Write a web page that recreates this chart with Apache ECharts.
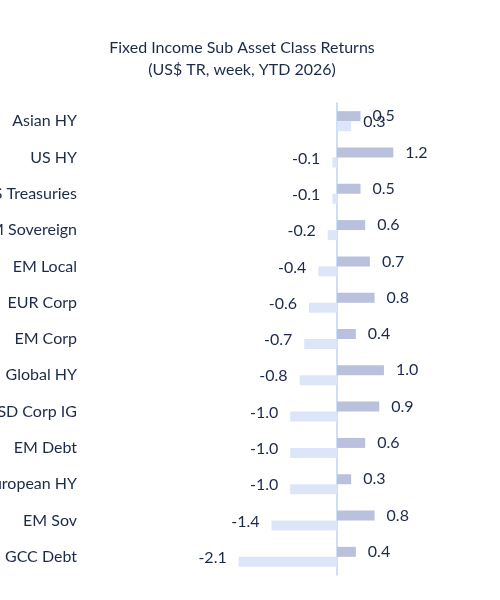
<!DOCTYPE html>
<html><head><meta charset="utf-8">
<script src="https://cdn.jsdelivr.net/npm/echarts@6/dist/echarts.min.js"></script>
<style>html,body{margin:0;background:#fff}#c{width:500px;height:600px}</style>
</head><body><div id="c"></div>
<script>
var categories = ['Asian HY', 'US HY', 'US Treasuries', 'DM Sovereign', 'EM Local', 'EUR Corp', 'EM Corp', 'Global HY', 'USD Corp IG', 'EM Debt', 'Pan-European HY', 'EM Sov', 'GCC Debt'];
var ytdValues = [0.5, 1.2, 0.5, 0.6, 0.7, 0.8, 0.4, 1.0, 0.9, 0.6, 0.3, 0.8, 0.4];
var weekValues = [0.3, -0.1, -0.1, -0.2, -0.4, -0.6, -0.7, -0.8, -1.0, -1.0, -1.0, -1.4, -2.1];

var chart = echarts.init(document.getElementById('c'));
var textColor = '#1c2a4a';
var lbl = {
  show: true, fontSize: 16, color: textColor, fontFamily: 'Lato',
  distance: 12, formatter: function (p) { return p.value.toFixed(1); }
};
chart.setOption({
  animation: false,
  title: {
    text: 'Fixed Income Sub Asset Class Returns\n(US$ TR, week, YTD 2026)',
    left: 237, top: 32, textAlign: 'center',
    textStyle: { fontSize: 16, fontWeight: 'normal', color: textColor, fontFamily: 'Lato', lineHeight: 22 }
  },
  grid: { left: 234, right: 102, top: 103, bottom: 25, containLabel: false, outerBoundsMode: 'none' },
  xAxis: {
    type: 'value', min: -2.2, max: 1.3,
    show: false, splitLine: { show: false }
  },
  yAxis: {
    type: 'category', data: categories, inverse: true,
    axisLine: { onZero: true, lineStyle: { color: '#bcd5f5', width: 1.5 } },
    axisTick: { show: false },
    axisLabel: { margin: 157, fontSize: 16, color: textColor, fontFamily: 'Lato' }
  },
  series: [
    {
      name: 'YTD', type: 'bar', data: ytdValues, barWidth: 10, barGap: '0%',
      itemStyle: { color: '#b9c1dd' },
      label: Object.assign({ position: 'right' }, lbl)
    },
    {
      name: 'Week', type: 'bar', barWidth: 10,
      itemStyle: { color: '#dde6f8' },
      label: Object.assign({}, lbl),
      data: weekValues.map(function (v) {
        return { value: v, label: { position: v < 0 ? 'left' : 'right', offset: [0, -4] } };
      })
    }
  ]
});
</script></body></html>
